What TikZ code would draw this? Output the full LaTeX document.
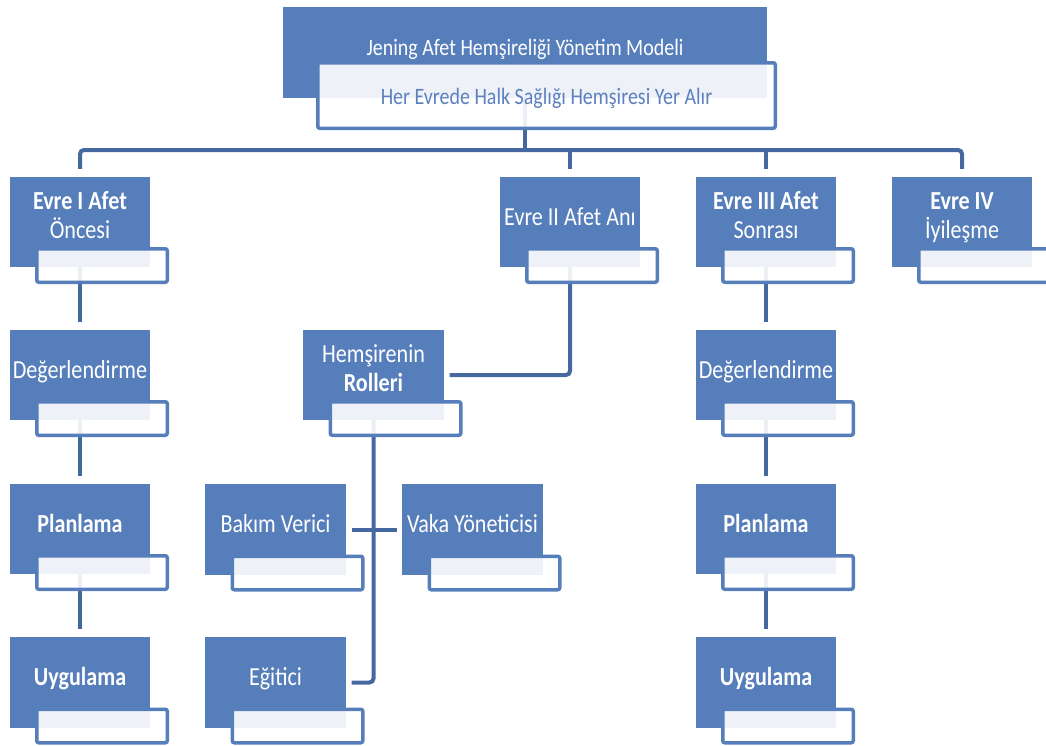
\documentclass[tikz,border=0pt]{standalone}
\usepackage{fontspec}
\setmainfont{Carlito}[FakeStretch=0.85]
\definecolor{mblue}{RGB}{86,126,186}
\definecolor{lblue}{RGB}{70,104,160}
\definecolor{tblue}{RGB}{92,128,192}
\tikzset{
  mainbox/.style={rectangle, fill=mblue, inner sep=0pt,
    minimum width=140pt, minimum height=90pt},
  txt/.style={text=white, inner sep=0pt, align=center,
    text height=17pt, text depth=5pt,
    font=\fontsize{26}{29}\selectfont},
  subbox/.style={rectangle, fill=white, fill opacity=0.9, draw=mblue,
    line width=3.5pt, rounded corners=2pt, minimum width=130.5pt,
    minimum height=33.5pt, inner sep=0pt},
  link/.style={draw=lblue, line width=4pt, rounded corners=4pt}
}
\begin{document}
\begin{tikzpicture}[x=1pt,y=-1pt]
\useasboundingbox (0,0) rectangle (1046,745);
\coordinate (bus) at (0,150);
% ---------- main boxes
\node[mainbox, minimum width=484pt, minimum height=91pt] (top) at (525,52.5) {};
\node[mainbox] (e1) at (80,222) {};
\node[mainbox] (e2) at (570,222) {};
\node[mainbox] (e3) at (766,222) {};
\node[mainbox] (e4) at (962,222) {};
\node[mainbox] (d1) at (80,375) {};
\node[mainbox] (p1) at (80,529) {};
\node[mainbox] (u1) at (80,682.5) {};
\node[mainbox] (d3) at (766,375) {};
\node[mainbox] (p3) at (766,529) {};
\node[mainbox] (u3) at (766,682.5) {};
\node[mainbox] (hr) at (373.5,375) {};
\node[mainbox] (bv) at (275.5,529.5) {};
\node[mainbox] (vy) at (472.5,529.5) {};
\node[mainbox] (eg) at (275.5,682.5) {};

% ---------- connectors
\draw[link] (top.center) -- (top.center |- bus);
\draw[link] ([yshift=8pt]e1.north) -- (e1.north |- bus) -- (e4.north |- bus) -- ([yshift=8pt]e4.north);
\draw[link] (e2.north |- bus) -- ([yshift=8pt]e2.north);
\draw[link] (e3.north |- bus) -- ([yshift=8pt]e3.north);
\draw[link] (e1.south) -- ([yshift=8pt]d1.north);
\draw[link] (d1.south) -- ([yshift=8pt]p1.north);
\draw[link] (p1.south) -- ([yshift=8pt]u1.north);
\draw[link] (e3.south) -- ([yshift=8pt]d3.north);
\draw[link] (d3.south) -- ([yshift=8pt]p3.north);
\draw[link] (p3.south) -- ([yshift=8pt]u3.north);
\draw[link] (e2.south) |- ([xshift=6pt]hr.east);
\draw[link] (hr.south) |- ([xshift=6pt]eg.east);
\draw[link, rounded corners=0pt] ([xshift=6pt]bv.east) -- ([xshift=-5pt]vy.west);

% ---------- redraw main boxes over connectors, with texts
\foreach \n in {top,e1,e2,e3,e4,d1,p1,u1,d3,p3,u3,hr,bv,vy,eg}
  \fill[mblue] (\n.north west) rectangle (\n.south east);

\node[txt, font=\fontsize{23.5}{28}\selectfont] (topt) at ([yshift=3.5pt]top.center) {Jening Afet Hemşireliği Yönetim Modeli};
\node[subbox, minimum width=457.5pt, minimum height=65.5pt] (topl) at (546.5,95.5) {};
\node[txt, text=tblue, font=\fontsize{23.5}{28}\selectfont] (toplt) at (546.5,98) {Her Evrede Halk Sağlığı Hemşiresi Yer Alır};

\node[txt] (e1t) at ([yshift=-10.5pt]e1.center) {\textbf{Evre I Afet}\\Öncesi};
\node[subbox] (e1l) at (102,265.5) {};
\node[txt] (e2t) at ([yshift=3pt]e2.center) {Evre II Afet Anı};
\node[subbox] (e2l) at (592,265.5) {};
\node[txt] (e3t) at ([yshift=-10.5pt]e3.center) {\textbf{Evre III Afet}\\Sonrası};
\node[subbox] (e3l) at (788,265.5) {};
\node[txt] (e4t) at ([yshift=-10.5pt]e4.center) {\textbf{Evre IV}\\İyileşme};
\node[subbox] (e4l) at (984,265.5) {};

\node[txt] (d1t) at ([yshift=3pt]d1.center) {Değerlendirme};
\node[subbox] (d1l) at (102,418.5) {};
\node[txt] (p1t) at ([yshift=3pt]p1.center) {\textbf{Planlama}};
\node[subbox] (p1l) at (102,572.5) {};
\node[txt] (u1t) at ([yshift=3pt]u1.center) {\textbf{Uygulama}};
\node[subbox] (u1l) at (102,726) {};

\node[txt] (d3t) at ([yshift=3pt]d3.center) {Değerlendirme};
\node[subbox] (d3l) at (788,418.5) {};
\node[txt] (p3t) at ([yshift=3pt]p3.center) {\textbf{Planlama}};
\node[subbox] (p3l) at (788,572.5) {};
\node[txt] (u3t) at ([yshift=3pt]u3.center) {\textbf{Uygulama}};
\node[subbox] (u3l) at (788,726) {};

\node[txt] (hrt) at ([yshift=-10.5pt]hr.center) {Hemşirenin\\\textbf{Rolleri}};
\node[subbox] (hrl) at (395.5,418.5) {};
\node[txt] (bvt) at ([yshift=3pt]bv.center) {Bakım Verici};
\node[subbox] (bvl) at (297.5,573) {};
\node[txt] (vyt) at ([yshift=3pt]vy.center) {Vaka Yöneticisi};
\node[subbox] (vyl) at (494.5,573) {};
\node[txt] (egt) at ([yshift=3pt]eg.center) {Eğitici};
\node[subbox] (egl) at (297.5,726) {};
\end{tikzpicture}
\end{document}
